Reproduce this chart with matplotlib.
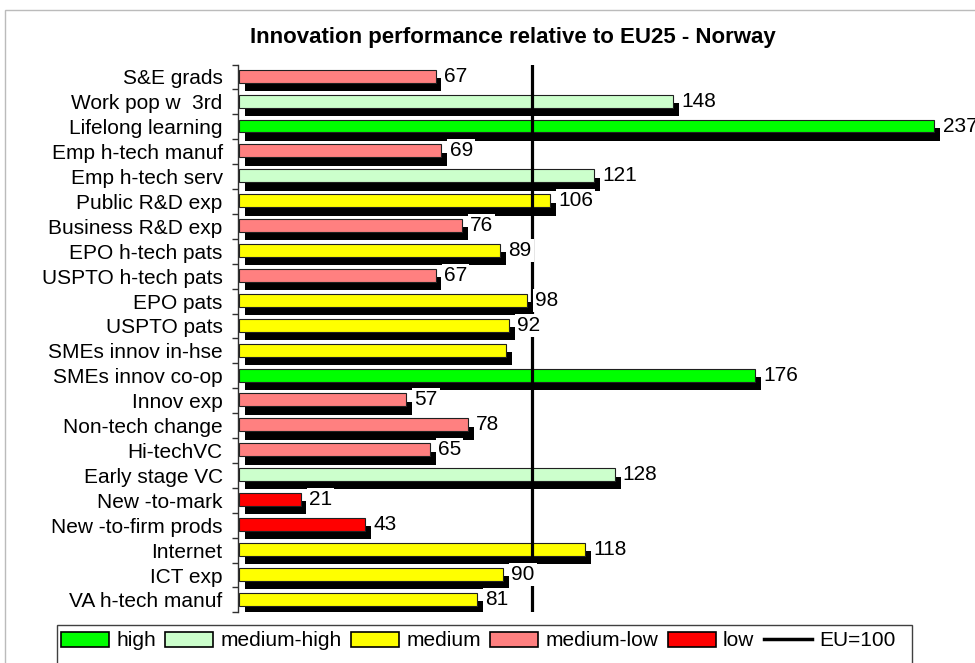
import matplotlib
matplotlib.use("Agg")
import matplotlib.pyplot as plt
from matplotlib.patches import Patch, Rectangle
from matplotlib.lines import Line2D
import matplotlib.patheffects as pe

plt.rcParams['font.family'] = ['Liberation Sans', 'DejaVu Sans']

categories = ["S&E grads", "Work pop w  3rd", "Lifelong learning", "Emp h-tech manuf",
              "Emp h-tech serv", "Public R&D exp", "Business R&D exp", "EPO h-tech pats",
              "USPTO h-tech pats", "EPO pats", "USPTO pats", "SMEs innov in-hse",
              "SMEs innov co-op", "Innov exp", "Non-tech change", "Hi-techVC",
              "Early stage VC", "New -to-mark", "New -to-firm prods", "Internet",
              "ICT exp", "VA h-tech manuf"]
values = [67, 148, 237, 69, 121, 106, 76, 89, 67, 98, 92, 91, 176, 57, 78, 65,
          128, 21, 43, 118, 90, 81]
value_labels = ["67", "148", "237", "69", "121", "106", "76", "89", "67", "98", "92", "",
                "176", "57", "78", "65", "128", "21", "43", "118", "90", "81"]
levels = ["medium-low", "medium-high", "high", "medium-low", "medium-high", "medium",
          "medium-low", "medium", "medium-low", "medium", "medium", "medium",
          "high", "medium-low", "medium-low", "medium-low", "medium-high", "low", "low",
          "medium", "medium", "medium"]
level_names = ["high", "medium-high", "medium", "medium-low", "low"]
level_colors = {"high": "#00FF00", "medium-high": "#CCFFCC", "medium": "#FFFF00",
                "medium-low": "#FF8080", "low": "#FF0000"}
eu_value = 100
title = "Innovation performance relative to EU25 - Norway"

W, H = 975, 663
fig = plt.figure(figsize=(W / 100, H / 100), dpi=100)

# outer chart border (cropped on right/bottom)
fig.patches.append(Rectangle((5 / W, -0.2), 1.3, (H - 10) / H + 0.2,
                             transform=fig.transFigure, facecolor='none',
                             edgecolor='#BBBBBB', linewidth=1.0, zorder=0))

ax_left, ax_right = 238, 975
ax_top, ax_bottom = 64.5, 612.4
ax = fig.add_axes([ax_left / W, 1 - ax_bottom / H, (ax_right - ax_left) / W,
                   (ax_bottom - ax_top) / H])
ax.set_xlim(0, (ax_right - ax_left) / 2.935)
n = len(categories)
ax.set_ylim(n - 0.5, -0.5)
ax.patch.set_alpha(0)

ypos = list(range(n))
bar_y = [y - 0.03 for y in ypos]
colors = [level_colors[l] for l in levels]
bars = ax.barh(bar_y, values, height=0.52, left=0.3, color=colors, edgecolor='#202020',
               linewidth=0.8, zorder=2)
for b in bars:
    b.set_path_effects([pe.SimplePatchShadow(offset=(4.3, -6.0), shadow_rgbFace='black',
                                             alpha=1.0), pe.Normal()])

ax.axvline(eu_value, color='black', linewidth=2.3, zorder=3)

for y, v, lab in zip(bar_y, values, value_labels):
    if lab:
        ax.annotate(lab, xy=(v, y), xytext=(6.5, 0), textcoords='offset points',
                    ha='left', va='center', fontsize=15, zorder=4,
                    bbox=dict(facecolor='white', edgecolor='none', pad=1.5))

for s in ['top', 'right', 'bottom']:
    ax.spines[s].set_visible(False)
ax.spines['left'].set_color('#303030')
ax.spines['left'].set_linewidth(1.0)
ax.set_xticks([])
ax.set_yticks(ypos)
ax.set_yticklabels(categories, fontsize=15)
ax.tick_params(axis='y', which='major', length=0, pad=11)
ax.set_yticks([y + 0.5 for y in range(-1, n)], minor=True)
ax.tick_params(axis='y', which='minor', length=4, width=1.0, color='#303030')

fig.text(513 / W, 1 - 37 / H, title, ha='center', va='center', fontsize=16,
         fontweight='bold')

# legend
fig.patches.append(Rectangle((57 / W, -0.1), (912 - 57) / W, 0.1 + (H - 625) / H,
                             transform=fig.transFigure, facecolor='white',
                             edgecolor='#404040', linewidth=1.0, zorder=5))
handles = [Patch(facecolor=level_colors[l], edgecolor='black', linewidth=1.2)
           for l in level_names]
handles.append(Line2D([], [], color='black', linewidth=2.5))
leg = fig.legend(handles, level_names + ["EU=100"], loc='center left',
                 bbox_to_anchor=(61 / W, 1 - 641 / H), ncol=6, frameon=False,
                 fontsize=15, handlelength=2.3, handletextpad=0.35,
                 columnspacing=0.45, borderaxespad=0, borderpad=0)
leg.set_zorder(6)

fig.savefig("out.png", dpi=100)
